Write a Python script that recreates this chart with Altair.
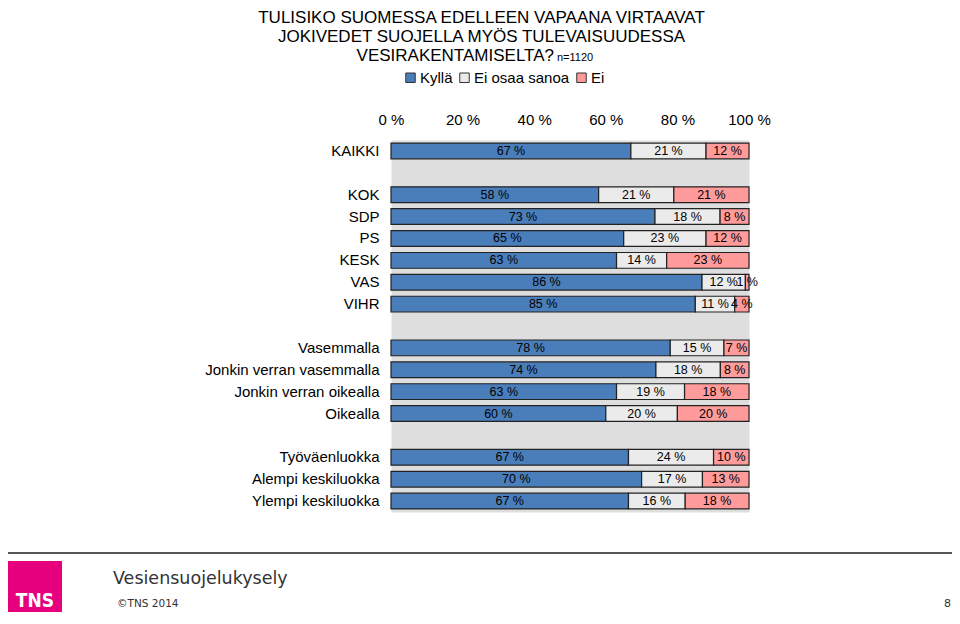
import altair as alt
import pandas as pd

# ---- data ----
groups = ["KAIKKI", "KOK", "SDP", "PS", "KESK", "VAS", "VIHR",
          "Vasemmalla", "Jonkin verran vasemmalla", "Jonkin verran oikealla", "Oikealla",
          "Työväenluokka", "Alempi keskiluokka", "Ylempi keskiluokka"]
kylla = [67, 58, 73, 65, 63, 86, 85, 78, 74, 63, 60, 67, 70, 67]
eos = [21, 21, 18, 23, 14, 12, 11, 15, 18, 19, 20, 24, 17, 16]
ei = [12, 21, 8, 12, 23, 1, 4, 7, 8, 18, 20, 10, 13, 18]
answers = ["Kyllä", "Ei osaa sanoa", "Ei"]
colors = ["#4A7EBB", "#EBEBEB", "#FF9B9B"]
row_order = ["KAIKKI", " ", "KOK", "SDP", "PS", "KESK", "VAS", "VIHR", "  ",
             "Vasemmalla", "Jonkin verran vasemmalla", "Jonkin verran oikealla", "Oikealla", "   ",
             "Työväenluokka", "Alempi keskiluokka", "Ylempi keskiluokka"]
tick_values = [0, 20, 40, 60, 80, 100]

title_lines = ["TULISIKO SUOMESSA EDELLEEN VAPAANA VIRTAAVAT",
               "JOKIVEDET SUOJELLA MYÖS TULEVAISUUDESSA",
               "VESIRAKENTAMISELTA?"]
n_text = "n=1120"
footer_title = "Vesiensuojelukysely"
footer_copy = "©TNS 2014"
page_no = "8"
logo_text = "TNS"

rows = []
for i, g in enumerate(groups):
    for j, (a, vals) in enumerate(zip(answers, [kylla, eos, ei])):
        rows.append({"group": g, "answer": a, "value": vals[i], "order": j})
df = pd.DataFrame(rows)

one = pd.DataFrame({"k": [0]})

yscale = alt.Scale(domain=row_order, paddingInner=0.28, paddingOuter=0.14)

base = (
    alt.Chart(df)
    .transform_stack(stack="value", groupby=["group"], as_=["s", "e"],
                     sort=[alt.SortField("order")], offset="normalize")
    .transform_calculate(s100="datum.s*100", e100="datum.e*100",
                         mid="(datum.s+datum.e)*50", label="datum.value + ' %'")
)

bars = base.mark_bar(stroke="#222222", strokeWidth=1.2).encode(
    x=alt.X("s100:Q", scale=alt.Scale(domain=[0, 100], nice=False),
            axis=alt.Axis(orient="top", values=tick_values, labelExpr="datum.value + ' %'",
                          ticks=False, domain=False, grid=False, title=None,
                          labelFontSize=15, labelPadding=13, labelFlush=False,
                          labelColor="black")),
    x2="e100:Q",
    y=alt.Y("group:N", scale=yscale,
            axis=alt.Axis(title=None, ticks=False, domain=False, labelFontSize=15,
                          labelPadding=12, labelColor="black", labelLimit=300)),
    color=alt.Color("answer:N", scale=alt.Scale(domain=answers, range=colors),
                    legend=alt.Legend(orient="none", legendX=12, legendY=-70,
                                      direction="horizontal", title=None,
                                      symbolType="square", symbolSize=90,
                                      symbolStrokeColor="#333333", symbolStrokeWidth=1,
                                      labelFontSize=15, labelOffset=2, columnPadding=4,
                                      labelColor="black")),
    order=alt.Order("order:Q"),
)

labels = base.mark_text(fontSize=12.5, color="black").encode(
    x=alt.X("mid:Q"),
    y=alt.Y("group:N", scale=yscale),
    text="label:N",
)

def txt(s, x, y, size, align="center", color="black", font="Liberation Sans",
        weight="normal", baseline="alphabetic"):
    return alt.Chart(pd.DataFrame({"t": [s]})).mark_text(
        fontSize=size, align=align, color=color, font=font, fontWeight=weight,
        baseline=baseline
    ).encode(x=alt.value(x), y=alt.value(y), text="t:N")

t1 = txt(title_lines[0], 90.5, -117, 17)
t2 = txt(title_lines[1], 90.5, -98, 17)
t3 = txt(title_lines[2], 163, -79, 17, align="right")
t4 = txt(n_text, 166, -79, 11, align="left")

footer_rule = alt.Chart(one).mark_rule(color="#555555", strokeWidth=2).encode(
    x=alt.value(-383), x2=alt.value(561), y=alt.value(413))
logo = alt.Chart(one).mark_rect(color="#E6007E").encode(
    x=alt.value(-383), x2=alt.value(-329), y=alt.value(421), y2=alt.value(472))
logo_t = txt(logo_text, -356, 467, 19, color="white",
             font="DejaVu Sans Condensed, Liberation Sans", weight="bold")
f1 = txt(footer_title, -278, 444, 17.5, align="left", color="#333333", font="DejaVu Sans")
f2 = txt(footer_copy, -274, 467, 10.5, align="left", color="#333333", font="DejaVu Sans")
f3 = txt(page_no, 560, 467, 11, align="right", color="#333333", font="DejaVu Sans")

chart = (
    alt.layer(bars, labels, t1, t2, t3, t4, footer_rule, logo, logo_t, f1, f2, f3)
    .properties(width=358, height=372,
                padding={"left": 383, "top": 132, "right": 203, "bottom": 100},
                autosize=alt.AutoSizeParams(type="none"))
    .configure(font="Liberation Sans")
    .configure_view(fill="#DEDEDE", strokeOpacity=0)
)

chart.save("out.html", embed_options={"renderer": "svg", "actions": False})
